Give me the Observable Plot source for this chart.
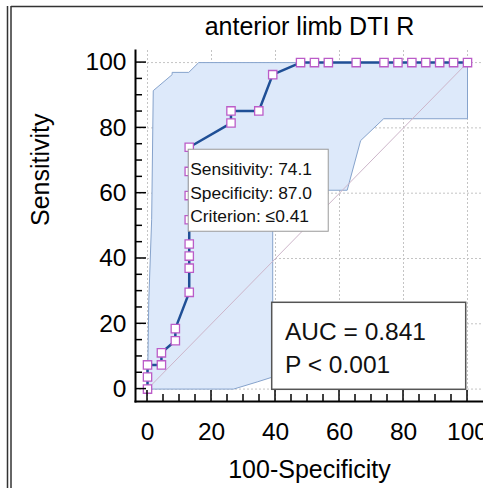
<!DOCTYPE html>
<html><head><meta charset="utf-8">
<script src="https://cdn.jsdelivr.net/npm/d3@7"></script>
<script src="https://cdn.jsdelivr.net/npm/@observablehq/plot@0.6"></script>
<style>
html,body{margin:0;padding:0;background:#fff;overflow:hidden;}
#wrap{position:relative;width:483px;height:488px;overflow:hidden;}
#wrap svg{overflow:hidden;}
</style></head><body><div id="wrap"></div>
<script>
const title = "anterior limb DTI R";
const xLabel = "100-Specificity";
const yLabel = "Sensitivity";
const majorTicks = [0, 20, 40, 60, 80, 100];
const minorTicks = [5, 10, 15, 25, 30, 35, 45, 50, 55, 65, 70, 75, 85, 90, 95];

// ROC curve (100-Specificity, Sensitivity)
const rocX = [0, 0, 0, 4.35, 4.35, 8.70, 8.70, 13.04, 13.04, 13.04, 13.04, 13.04, 13.04, 13.04, 13.04,
  26.09, 26.09, 34.78, 39.13, 47.83, 52.17, 56.52, 65.22, 73.91, 78.26, 82.61, 86.96, 91.30, 95.65, 100];
const rocY = [0, 3.70, 7.41, 7.41, 11.11, 14.81, 18.52, 29.63, 37.04, 40.74, 44.44, 51.85, 59.26, 66.67, 74.07,
  81.48, 85.19, 85.19, 96.30, 100, 100, 100, 100, 100, 100, 100, 100, 100, 100, 100];

// 95% confidence band
const upperX = [0, 0.4, 1.3, 1.8, 7.7, 7.7, 12.9, 16, 100];
const upperY = [0, 27, 52, 91.4, 96.3, 97, 97, 100, 100];
const lowerX = [0, 26.9, 34.3, 39.13, 39.13, 62.4, 66.6, 73.8, 100, 100];
const lowerY = [0, 0, 2.2, 3.7, 60.9, 60.9, 76.1, 82.8, 82.8, 100];

const diagX = [0, 100];
const diagY = [0, 100];

const criterionIndex = 14;
const criterionLines = ["Sensitivity: 74.1", "Specificity: 87.0", "Criterion: \u22640.41"];
const aucLines = ["AUC = 0.841", "P < 0.001"];

const roc = rocX.map((x, i) => ({x, y: rocY[i]}));
const band = upperX.map((x, i) => ({x, y: upperY[i]}))
  .concat(lowerX.map((x, i) => ({x, y: lowerY[i]})).reverse());
const diag = diagX.map((x, i) => ({x, y: diagY[i]}));

const FONT = "'Liberation Sans', Arial, sans-serif";

const chart = Plot.plot({
  width: 483,
  height: 488,
  marginLeft: 135,
  marginRight: 0,
  marginTop: 50,
  marginBottom: 87,
  x: {domain: [-3.75, 105]},
  y: {domain: [-3.8, 103.7]},
  style: {fontFamily: FONT, background: "white", color: "black"},
  marks: [
    Plot.ruleX(majorTicks, {stroke: "#c4c4c4", strokeWidth: 1, strokeDasharray: "2,2"}),
    Plot.ruleY(majorTicks, {stroke: "#c4c4c4", strokeWidth: 1, strokeDasharray: "2,2"}),
    Plot.line(band, {x: "x", y: "y", fill: "#dde9fa", stroke: "#86a3cc", strokeWidth: 1, curve: "linear"}),
    Plot.line(diag, {x: "x", y: "y", stroke: "#cdb6ca", strokeWidth: 1}),
    Plot.line(roc, {x: "x", y: "y", stroke: "#1f4f96", strokeWidth: 2.5}),
    Plot.dot(roc, {x: "x", y: "y", symbol: "square", r: 4.7, fill: "white", stroke: "#bb5cc8", strokeWidth: 1.3}),
    // tick labels
    Plot.axisX(majorTicks, {tickSize: 0, tickPadding: 21, fontSize: 24.5, label: null}),
    Plot.axisY(majorTicks, {tickSize: 0, tickPadding: 9, fontSize: 24.5, label: null}),
    // spines
    Plot.frame({anchor: "bottom", strokeWidth: 2}),
    Plot.frame({anchor: "left", strokeWidth: 2}),
    // titles
    Plot.text([title], {frameAnchor: "top", lineAnchor: "bottom", dy: -16, fontSize: 25}),
    Plot.text([xLabel], {frameAnchor: "bottom", lineAnchor: "bottom", dy: 76, fontSize: 25}),
    Plot.text([yLabel], {frameAnchor: "left", rotate: -90, dx: -95, fontSize: 25})
  ]
});

document.getElementById("wrap").appendChild(chart);

const xs = chart.scale("x"), ys = chart.scale("y");
const svg = d3.select(chart);

// inward ticks on the spines
const x0 = xs.range[0], y0 = ys.range[0];
const gt = svg.append("g").attr("stroke", "black").attr("stroke-width", 1.5);
majorTicks.forEach(v => {
  const px = xs.apply(v), py = ys.apply(v);
  gt.append("line").attr("x1", px).attr("x2", px).attr("y1", y0).attr("y2", y0 - 11);
  gt.append("line").attr("x1", x0).attr("x2", x0 + 11).attr("y1", py).attr("y2", py);
});
minorTicks.forEach(v => {
  const px = xs.apply(v), py = ys.apply(v);
  gt.append("line").attr("x1", px).attr("x2", px).attr("y1", y0).attr("y2", y0 - 7);
  gt.append("line").attr("x1", x0).attr("x2", x0 + 7).attr("y1", py).attr("y2", py);
});

// criterion annotation box anchored at the criterion point
const cx = xs.apply(rocX[criterionIndex]), cy = ys.apply(rocY[criterionIndex]);
const g1 = svg.append("g").attr("font-family", FONT).attr("text-anchor", "start");
g1.append("rect").attr("x", cx - 0.5).attr("y", cy + 2.5).attr("width", 140).attr("height", 82)
  .attr("fill", "white").attr("stroke", "#9a9a9a").attr("stroke-width", 1);
criterionLines.forEach((t, i) => {
  g1.append("text").attr("x", cx + 1.5).attr("y", cy + 28.5 + i * 23.4)
    .attr("font-size", 17.4).attr("fill", "#111").text(t);
});

// AUC box anchored at bottom-right of the data area
const right = xs.apply(100) - 1.3, bottom = ys.apply(0) + 0.7;
const bw = 194, bh = 87;
const g2 = svg.append("g").attr("font-family", FONT).attr("text-anchor", "start");
g2.append("rect").attr("x", right - bw).attr("y", bottom - bh).attr("width", bw).attr("height", bh)
  .attr("fill", "white").attr("stroke", "#555").attr("stroke-width", 1.5);
aucLines.forEach((t, i) => {
  g2.append("text").attr("x", right - bw + 13.3).attr("y", bottom - bh + 38 + i * 32.5)
    .attr("font-size", 24.5).attr("fill", "#111").text(t);
});

// outer page border lines
const gb = svg.append("g").attr("stroke", "#333").attr("stroke-width", 1.5);
gb.append("line").attr("x1", 7.5).attr("x2", 7.5).attr("y1", 6).attr("y2", 488);
gb.append("line").attr("x1", 11).attr("x2", 11).attr("y1", 6).attr("y2", 488);
gb.append("line").attr("x1", 11).attr("x2", 483).attr("y1", 6.5).attr("y2", 6.5);
</script>
</body></html>
